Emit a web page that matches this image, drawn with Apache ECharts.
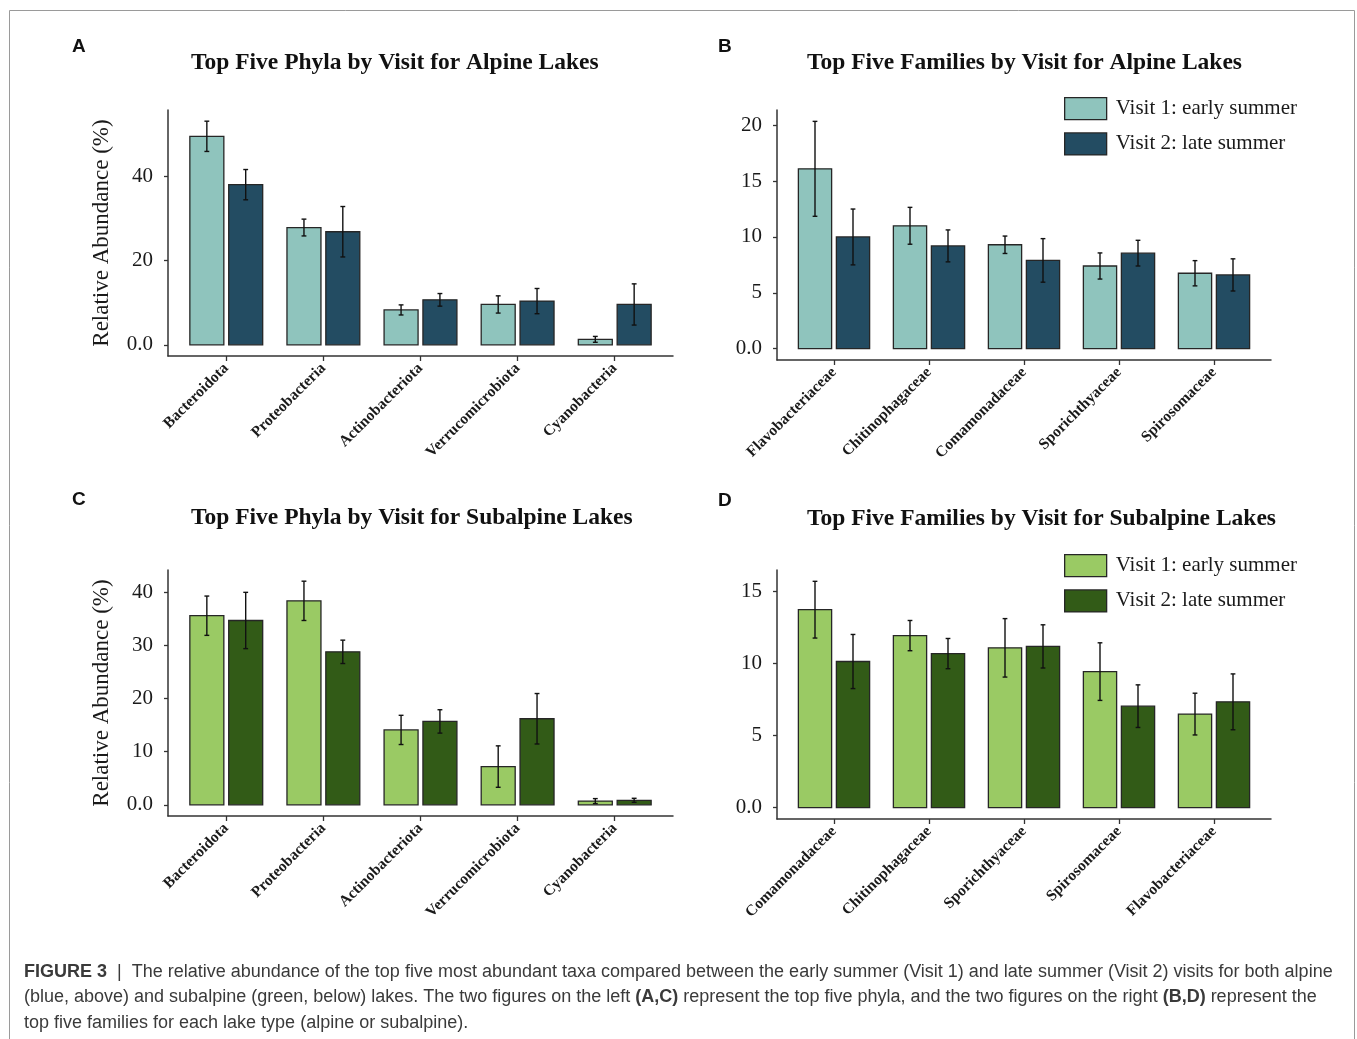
<!DOCTYPE html>
<html>
<head>
<meta charset="utf-8">
<title>Figure 3 – Top taxa by visit</title>
<script src="https://cdn.jsdelivr.net/npm/echarts@6/dist/echarts.min.js"></script>
<style>
  html, body { margin: 0; padding: 0; background: #ffffff; }
  #chart { width: 1357px; height: 1039px; }
</style>
</head>
<body>
<div id="chart"></div>
<script>
// ---- categories ----
const phylaCats = ['Bacteroidota', 'Proteobacteria', 'Actinobacteriota', 'Verrucomicrobiota', 'Cyanobacteria'];
const alpineFamilyCats = ['Flavobacteriaceae', 'Chitinophagaceae', 'Comamonadaceae', 'Sporichthyaceae', 'Spirosomaceae'];
const subalpineFamilyCats = ['Comamonadaceae', 'Chitinophagaceae', 'Sporichthyaceae', 'Spirosomaceae', 'Flavobacteriaceae'];

// ---- mean relative abundance (%) and error ----
const alpinePhylaV1 = [49.6, 27.9, 8.3, 9.6, 1.3];
const alpinePhylaV1Err = [3.6, 2.0, 1.2, 2.05, 0.7];
const alpinePhylaV2 = [38.1, 26.9, 10.7, 10.4, 9.6];
const alpinePhylaV2Err = [3.6, 6.0, 1.5, 3.0, 4.9];

const alpineFamilyV1 = [16.1, 11.0, 9.3, 7.4, 6.75];
const alpineFamilyV1Err = [4.25, 1.65, 0.78, 1.17, 1.13];
const alpineFamilyV2 = [10.0, 9.2, 7.9, 8.55, 6.6];
const alpineFamilyV2Err = [2.5, 1.43, 1.95, 1.15, 1.44];

const subalpinePhylaV1 = [35.6, 38.4, 14.1, 7.2, 0.7];
const subalpinePhylaV1Err = [3.7, 3.7, 2.75, 3.9, 0.47];
const subalpinePhylaV2 = [34.7, 28.8, 15.7, 16.2, 0.85];
const subalpinePhylaV2Err = [5.3, 2.2, 2.2, 4.75, 0.38];

const subalpineFamilyV1 = [13.75, 11.95, 11.1, 9.45, 6.5];
const subalpineFamilyV1Err = [1.97, 1.05, 2.03, 2.0, 1.45];
const subalpineFamilyV2 = [10.15, 10.7, 11.2, 7.05, 7.35];
const subalpineFamilyV2Err = [1.88, 1.05, 1.5, 1.48, 1.94];

// ---- y tick labels ----
const alpinePhylaTicks = [0, 20, 40];
const alpineFamilyTicks = [0, 5, 10, 15, 20];
const subalpinePhylaTicks = [0, 10, 20, 30, 40];
const subalpineFamilyTicks = [0, 5, 10, 15];

// ---- titles / legend text ----
const panelTitles = [
  'Top Five Phyla by Visit for Alpine Lakes',
  'Top Five Families by Visit for Alpine Lakes',
  'Top Five Phyla by Visit for Subalpine Lakes',
  'Top Five Families by Visit for Subalpine Lakes'
];
const visitLabels = ['Visit 1: early summer', 'Visit 2: late summer'];
const yTitle = 'Relative Abundance (%)';

// ---------------------------------------------------------------------------
const SERIF = '"Liberation Serif", "Times New Roman", Times, serif';
const SANS = '"Liberation Sans", Arial, Helvetica, sans-serif';
const alpineColors = ['#8fc4bd', '#234c62'];
const subalpineColors = ['#9aca64', '#325b17'];

const chart = echarts.init(document.getElementById('chart'), null, { renderer: 'canvas' });

const panels = [
  { cats: phylaCats, v1: alpinePhylaV1, e1: alpinePhylaV1Err, v2: alpinePhylaV2, e2: alpinePhylaV2Err,
    ticks: alpinePhylaTicks, colors: alpineColors, grid: { left: 168, top: 110, width: 505, height: 246 }, yName: true, key: 'alpinePhyla' },
  { cats: alpineFamilyCats, v1: alpineFamilyV1, e1: alpineFamilyV1Err, v2: alpineFamilyV2, e2: alpineFamilyV2Err,
    ticks: alpineFamilyTicks, colors: alpineColors, grid: { left: 777, top: 110, width: 494, height: 250 }, yName: false, key: 'alpineFamily' },
  { cats: phylaCats, v1: subalpinePhylaV1, e1: subalpinePhylaV1Err, v2: subalpinePhylaV2, e2: subalpinePhylaV2Err,
    ticks: subalpinePhylaTicks, colors: subalpineColors, grid: { left: 168, top: 570, width: 505, height: 246 }, yName: true, key: 'subalpinePhyla' },
  { cats: subalpineFamilyCats, v1: subalpineFamilyV1, e1: subalpineFamilyV1Err, v2: subalpineFamilyV2, e2: subalpineFamilyV2Err,
    ticks: subalpineFamilyTicks, colors: subalpineColors, grid: { left: 777, top: 570, width: 494, height: 249 }, yName: false, key: 'subalpineFamily' }
];

// bars of one visit: dodged 0.2 units from the category centre, 0.35 units wide
function makeRenderer(offset) {
  return function (params, api) {
    const x = api.value(0), v = api.value(1), e = api.value(2);
    const cx = x + offset;
    const tl = api.coord([cx - 0.175, v]);
    const br = api.coord([cx + 0.175, 0]);
    const top = api.coord([cx, v + e]);
    const bot = api.coord([cx, v - e]);
    const capL = api.coord([cx - 0.025, v])[0];
    const capR = api.coord([cx + 0.025, v])[0];
    const errStyle = { stroke: '#111', lineWidth: 1.4 };
    return {
      type: 'group',
      children: [
        { type: 'rect', shape: { x: tl[0], y: tl[1], width: br[0] - tl[0], height: br[1] - tl[1] },
          style: { fill: api.visual('color'), stroke: '#262626', lineWidth: 1.3 } },
        { type: 'line', shape: { x1: top[0], y1: top[1], x2: bot[0], y2: bot[1] }, style: errStyle },
        { type: 'line', shape: { x1: capL, y1: top[1], x2: capR, y2: top[1] }, style: errStyle },
        { type: 'line', shape: { x1: capL, y1: bot[1], x2: capR, y2: bot[1] }, style: errStyle }
      ]
    };
  };
}

const grids = [], xAxes = [], yAxes = [], series = [];
const seriesLabel = {};

panels.forEach((p, i) => {
  grids.push(Object.assign({}, p.grid));
  const cats = p.cats;
  const catIdx = cats.map((c, k) => k + 1);
  xAxes.push({
    gridIndex: i, type: 'value', min: 0.4, max: cats.length + 0.6,
    axisLine: { onZero: false, lineStyle: { color: '#333', width: 1.5 } },
    axisTick: { show: true, length: 5, customValues: catIdx, lineStyle: { color: '#333', width: 1.3 } },
    axisLabel: {
      customValues: catIdx, rotate: 45, margin: 10, interval: 0,
      formatter: (val) => cats[Math.round(val) - 1] || '',
      fontFamily: SERIF, fontWeight: 'bold', fontSize: 15.5, color: '#1a1a1a'
    },
    splitLine: { show: false }
  });
  const maxTop = Math.max(...p.v1.map((v, k) => v + p.e1[k]), ...p.v2.map((v, k) => v + p.e2[k]));
  const pad = maxTop * 0.05;
  yAxes.push({
    gridIndex: i, type: 'value', min: -pad, max: maxTop + pad,
    name: p.yName ? yTitle : '', nameLocation: 'middle', nameGap: 55,
    nameTextStyle: { fontFamily: SERIF, fontSize: 23, color: '#1a1a1a' },
    axisLine: { show: true, lineStyle: { color: '#333', width: 1.5 } },
    axisTick: { show: true, length: 4, customValues: p.ticks, lineStyle: { color: '#333', width: 1.3 } },
    axisLabel: {
      customValues: p.ticks, margin: 15,
      formatter: (val) => (val === 0 ? '0.0' : String(val)),
      fontFamily: SERIF, fontSize: 21, color: '#1a1a1a'
    },
    splitLine: { show: false }
  });
  [[p.v1, p.e1, -0.2], [p.v2, p.e2, 0.2]].forEach(([vals, errs, off], j) => {
    const name = p.key.startsWith('alpine') ? 'alpine' + (j + 1) : 'subalpine' + (j + 1);
    seriesLabel[name] = visitLabels[j];
    series.push({
      type: 'custom', name: name, xAxisIndex: i, yAxisIndex: i,
      itemStyle: { color: p.colors[j] },
      renderItem: makeRenderer(off),
      data: vals.map((v, k) => [k + 1, v, errs[k]]),
      silent: true, animation: false
    });
  });
});

function legendFor(prefix, top) {
  return {
    orient: 'vertical', left: 1064, top: top, padding: 0, selectedMode: false,
    data: [prefix + '1', prefix + '2'],
    icon: 'rect', itemWidth: 42, itemHeight: 22, itemGap: 12,
    itemStyle: { borderColor: '#262626', borderWidth: 1.3 },
    formatter: (name) => seriesLabel[name],
    textStyle: { fontFamily: SERIF, fontSize: 21, color: '#1a1a1a', padding: [0, 0, 0, 4] }
  };
}

const titleStyle = { fontFamily: SERIF, fontSize: 23.5, fontWeight: 'bold', fill: '#111' };
const letterStyle = { fontFamily: SANS, fontSize: 19, fontWeight: 'bold', fill: '#111' };
const CAP = 18;
const capBase = { fontFamily: SANS, fontSize: CAP, fill: '#3a3a3a' };
const capRich = {
  b: { fontFamily: SANS, fontSize: CAP, fontWeight: 'bold', color: '#111' },
  s: { fontFamily: SANS, fontSize: CAP, color: '#555' },
  n: { fontFamily: SANS, fontSize: CAP, color: '#3a3a3a' }
};

const graphics = [
  { type: 'rect', shape: { x: 9.5, y: 10.5, width: 1345, height: 1060 },
    style: { fill: 'none', stroke: '#9a9a9a', lineWidth: 1 }, silent: true },
  { type: 'text', left: 72, top: 37, style: Object.assign({ text: 'A' }, letterStyle) },
  { type: 'text', left: 718, top: 37, style: Object.assign({ text: 'B' }, letterStyle) },
  { type: 'text', left: 72, top: 490, style: Object.assign({ text: 'C' }, letterStyle) },
  { type: 'text', left: 718, top: 491, style: Object.assign({ text: 'D' }, letterStyle) },
  { type: 'text', left: 191, top: 51, style: Object.assign({ text: panelTitles[0] }, titleStyle) },
  { type: 'text', left: 807, top: 51, style: Object.assign({ text: panelTitles[1] }, titleStyle) },
  { type: 'text', left: 191, top: 506, style: Object.assign({ text: panelTitles[2] }, titleStyle) },
  { type: 'text', left: 807, top: 507, style: Object.assign({ text: panelTitles[3] }, titleStyle) },
  { type: 'text', left: 24, top: 963, style: Object.assign({
      text: '{b|FIGURE 3}{s|  |  }{n|The relative abundance of the top five most abundant taxa compared between the early summer (Visit 1) and late summer (Visit 2) visits for both alpine}',
      rich: capRich }, capBase) },
  { type: 'text', left: 24, top: 988, style: Object.assign({
      text: '{n|(blue, above) and subalpine (green, below) lakes. The two figures on the left }{b|(A,C)}{n| represent the top five phyla, and the two figures on the right }{b|(B,D)}{n| represent the}',
      rich: capRich }, capBase) },
  { type: 'text', left: 24, top: 1014, style: Object.assign({
      text: '{n|top five families for each lake type (alpine or subalpine).}',
      rich: capRich }, capBase) }
];

chart.setOption({
  backgroundColor: '#ffffff',
  animation: false,
  grid: grids,
  xAxis: xAxes,
  yAxis: yAxes,
  legend: [legendFor('alpine', 97), legendFor('subalpine', 554)],
  series: series,
  graphic: graphics
});
</script>
</body>
</html>
